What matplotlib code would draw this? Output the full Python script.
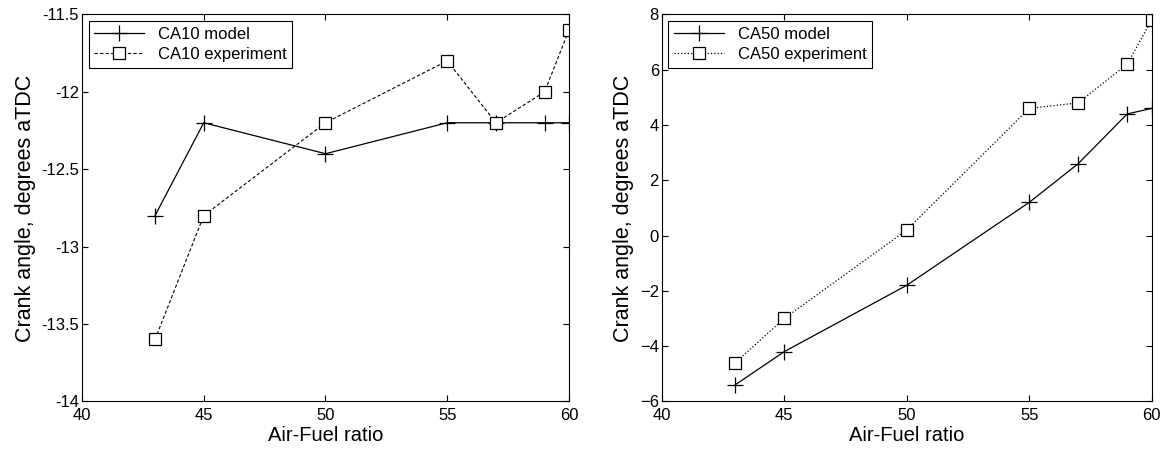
import matplotlib.pyplot as plt

afr = [43, 45, 50, 55, 57, 59, 60]

ca10_model = [-12.8, -12.2, -12.4, -12.2, -12.2, -12.2, -12.2]
ca10_exp = [-13.6, -12.8, -12.2, -11.8, -12.2, -12.0, -11.6]

ca50_model = [-5.4, -4.2, -1.8, 1.2, 2.6, 4.4, 4.6]
ca50_exp = [-4.6, -3.0, 0.2, 4.6, 4.8, 6.2, 7.8]

plt.rcParams['font.family'] = ['Liberation Sans', 'DejaVu Sans']

fig = plt.figure(figsize=(11.61, 4.5), dpi=100)
ax1 = fig.add_axes([0.0706, 0.108, 0.4195, 0.86])
ax2 = fig.add_axes([0.570, 0.108, 0.422, 0.86])

# left: CA10
ax1.plot(afr, ca10_model, '-', color='black', lw=0.9, marker='+', ms=11, mew=0.9, label='CA10 model')
ax1.plot(afr, ca10_exp, '--', color='black', lw=0.8, marker='s', ms=8, mew=0.9,
         mfc='white', dashes=(3, 2), label='CA10 experiment')
ax1.set_xlim(40, 60)
ax1.set_ylim(-14, -11.5)
ax1.set_yticks([-14, -13.5, -13, -12.5, -12, -11.5])
ax1.set_yticklabels(['-14', '-13.5', '-13', '-12.5', '-12', '-11.5'])

# right: CA50
ax2.plot(afr, ca50_model, '-', color='black', lw=0.9, marker='+', ms=11, mew=0.9, label='CA50 model')
ax2.plot(afr, ca50_exp, ':', color='black', lw=0.9, marker='s', ms=8, mew=0.9,
         mfc='white', label='CA50 experiment')
ax2.set_xlim(40, 60)
ax2.set_ylim(-6, 8)
ax2.set_yticks(range(-6, 9, 2))

for ax in (ax1, ax2):
    ax.set_xticks([40, 45, 50, 55, 60])
    ax.tick_params(direction='in', top=True, right=True, labelsize=12, length=4)
    ax.tick_params(axis='y', pad=2)
    ax.tick_params(axis='x', pad=5)
    ax.set_xlabel('Air-Fuel ratio', fontsize=14.5, labelpad=2)
    ax.set_ylabel('Crank angle, degrees aTDC', fontsize=15.5, labelpad=4)
    for s in ax.spines.values():
        s.set_linewidth(0.8)
    leg = ax.legend(loc='upper left', fontsize=12, fancybox=False, framealpha=1,
                    edgecolor='black', borderaxespad=0.4, handlelength=3,
                    borderpad=0.35, labelspacing=0.3)
    leg.get_frame().set_linewidth(0.8)

fig.savefig('out.png', dpi=100)
